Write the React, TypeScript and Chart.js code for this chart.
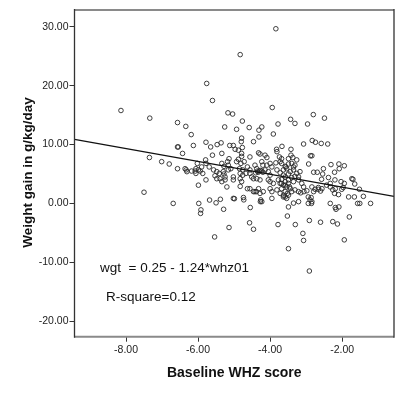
import React, { useEffect, useRef } from "react";
import { Chart, registerables } from "chart.js";

Chart.register(...registerables);

// Baseline WHZ score (x) and weight gain g/kg/day (y)
const points: number[][] = [
  [-3.84, 29.7], [-4.83, 25.3], [-5.76, 20.4], [-5.6, 17.5], [-8.14, 15.8], [-7.34, 14.5], [-3.94, 16.3],
  [-5.17, 15.4], [-5.04, 15.2], [-2.8, 15.1], [-2.49, 14.5], [-3.43, 14.3], [-3.31, 13.6], [-6.57, 13.75],
  [-4.77, 14.0], [-3.78, 13.5], [-2.96, 13.5], [-6.34, 13.1], [-5.26, 13.0], [-4.23, 13.0], [-4.58, 12.9],
  [-4.93, 12.6], [-4.31, 12.45], [-3.91, 11.8], [-6.19, 11.7], [-4.79, 11.1], [-4.31, 11.3], [-2.83, 10.7],
  [-2.74, 10.4], [-2.58, 10.2], [-2.4, 10.1], [-3.07, 10.1], [-5.78, 10.4], [-5.36, 10.3], [-5.47, 10.0],
  [-5.65, 9.6], [-6.13, 9.85], [-6.57, 9.6], [-6.55, 9.6], [-4.46, 10.5], [-4.8, 10.5], [-5.12, 9.85],
  [-5.02, 9.85], [-4.77, 9.5], [-3.67, 9.7], [-3.42, 9.2], [-3.82, 9.2], [-6.43, 8.5], [-7.35, 7.8],
  [-7.01, 7.1], [-6.8, 6.7], [-7.5, 1.9], [-6.69, 0.0], [-5.98, 0.0], [-5.92, -1.1], [-5.93, -1.7],
  [-5.68, 0.57], [-5.5, 0.1], [-5.38, 0.7], [-5.29, -1.0], [-5.54, -5.7], [-5.14, -4.1], [-4.99, 0.8],
  [-4.74, 1.0], [-4.73, 0.6], [-4.55, -0.7], [-4.57, -3.3], [-4.46, -4.4], [-4.27, 0.3], [-3.52, -2.15],
  [-3.49, -7.7], [-3.78, -3.6], [-3.3, -3.6], [-3.35, 0.05], [-3.09, -5.1], [-3.07, -6.3], [-2.91, -2.9],
  [-2.91, -11.5], [-2.6, -3.2], [-2.26, -3.1], [-2.13, -3.5], [-1.94, -6.2], [-1.8, -2.3], [-2.33, 0.0],
  [-2.19, -0.7], [-2.17, -1.0], [-2.09, -0.6], [-2.1, 1.5], [-1.57, 0.0], [-1.51, 0.0], [-1.21, 0.0],
  [-1.66, 1.1], [-1.41, 1.2], [-1.52, 2.4], [-1.65, 3.3], [-1.7, 4.1], [-1.94, 3.4], [-1.97, 2.7],
  [-1.94, 6.4], [-2.09, 6.7], [-2.08, 5.9], [-2.31, 6.6], [-2.21, 5.3], [-2.2, 4.0], [-2.03, 3.7],
  [-2.52, 5.9], [-2.54, 5.0], [-2.57, 4.1], [-2.38, 4.4], [-2.79, 5.3], [-2.69, 5.3], [-2.88, 8.1],
  [-2.84, 8.1], [-2.93, 6.7], [-2.86, 1.0], [-2.85, 0.0], [-2.94, 0.0], [-2.79, 2.0], [-2.66, 2.4],
  [-2.6, 2.1], [-2.33, 3.4], [-2.26, 2.3], [-2.21, 1.7],
  [-4.97, 9.2], [-4.88, 9.05], [-5.34, 8.5], [-5.6, 8.2], [-4.79, 8.5], [-4.79, 8.0], [-4.32, 8.6],
  [-4.28, 8.4], [-4.56, 7.9], [-4.14, 8.2], [-4.09, 7.8], [-3.81, 8.8], [-3.74, 7.9], [-3.68, 7.6],
  [-3.49, 7.6], [-4.88, 7.5], [-5.14, 7.6], [-5.79, 7.4], [-6.02, 6.8], [-5.78, 6.8], [-5.69, 6.2],
  [-5.18, 7.1], [-5.34, 6.8], [-5.28, 6.3], [-4.93, 7.1], [-4.81, 6.8], [-4.72, 7.1], [-5.16, 6.5],
  [-5.09, 5.9], [-4.85, 5.9], [-4.76, 5.7], [-4.63, 6.2], [-4.56, 5.7], [-4.42, 6.5], [-4.37, 5.9],
  [-4.23, 7.1], [-4.2, 6.5], [-4.09, 6.5], [-4.0, 6.8], [-3.95, 6.2], [-3.84, 6.9], [-3.72, 7.1],
  [-3.58, 6.3], [-3.54, 5.9], [-6.57, 5.9], [-6.36, 5.9], [-6.33, 5.7], [-6.06, 5.9], [-5.99, 5.7],
  [-5.9, 6.2], [-6.18, 5.5], [-6.08, 5.5], [-5.94, 5.5], [-5.87, 5.1], [-5.57, 5.7], [-5.48, 5.4],
  [-5.41, 5.1], [-5.3, 5.4], [-5.28, 5.0], [-5.25, 4.5], [-5.16, 5.7], [-5.53, 4.7], [-5.48, 4.2],
  [-5.39, 4.2], [-5.34, 3.7], [-5.25, 4.0], [-5.02, 4.5], [-5.02, 4.0], [-4.83, 5.1], [-4.76, 4.8],
  [-4.67, 5.1], [-4.83, 4.2], [-4.79, 3.7], [-4.56, 5.1], [-4.51, 4.5], [-4.46, 4.2], [-4.35, 5.5],
  [-4.3, 5.5], [-4.23, 5.5], [-4.14, 5.7], [-4.05, 5.4], [-4.0, 4.8], [-3.81, 5.7], [-3.72, 5.2],
  [-3.63, 4.8], [-4.37, 4.2], [-4.28, 4.0], [-4.05, 4.0], [-4.0, 3.7], [-3.91, 3.4], [-3.77, 4.0],
  [-3.68, 3.4], [-3.58, 3.1], [-3.49, 3.4], [-3.46, 2.8], [-5.99, 3.1], [-5.78, 4.0], [-4.83, 2.9],
  [-4.56, 2.5], [-4.42, 2.0], [-4.32, 2.5], [-4.28, 1.7], [-4.19, 2.0], [-4.0, 2.5], [-3.95, 2.0],
  [-3.81, 2.3], [-3.72, 1.7], [-3.68, 2.5], [-3.63, 1.4], [-3.58, 1.1], [-3.54, 0.85], [-3.95, 0.85],
  [-4.26, 0.6], [-4.23, 0.3], [-5.02, 0.85], [-3.49, -0.6],
  [-3.42, 8.2], [-3.37, 7.8], [-3.68, 6.8], [-3.56, 6.2], [-3.49, 6.7], [-3.4, 6.8], [-3.35, 6.2],
  [-3.31, 6.5], [-3.26, 7.4], [-3.63, 5.7], [-3.44, 5.4], [-3.35, 5.7], [-3.26, 5.1], [-3.17, 5.4],
  [-3.58, 4.5], [-3.49, 5.0], [-3.4, 4.4], [-3.31, 4.6], [-3.21, 4.5], [-3.68, 4.05], [-3.58, 3.7],
  [-3.49, 4.0], [-3.35, 3.7], [-3.21, 4.0], [-3.12, 3.4], [-3.07, 2.8], [-1.73, 4.2], [-3.72, 3.4],
  [-3.63, 3.1], [-3.54, 2.8], [-3.44, 2.5], [-3.58, 2.0], [-3.52, 1.7], [-3.4, 2.0], [-3.31, 2.3],
  [-3.21, 2.0], [-3.15, 1.8], [-3.06, 2.0], [-2.98, 2.15], [-2.84, 2.8], [-2.75, 2.4], [-2.66, 2.7],
  [-2.56, 2.5], [-2.43, 3.1], [-2.33, 2.8], [-2.19, 2.5], [-2.01, 2.4], [-3.63, 1.1], [-3.49, 1.4],
  [-2.94, 1.1], [-2.89, 0.6], [-2.84, 0.3], [-1.82, 1.1], [-3.21, 0.3],
  [-4.33, 5.3], [-4.27, 5.6], [-4.2, 5.3], [-4.4, 5.2], [-6.06, 5.1], [-6.31, 5.4], [-5.2, 2.8],
  [-4.63, 2.5], [-4.46, 2.0], [-4.38, 2.0],
];
const fitLineX = [-9.43, -0.56];
const fitLineY = [10.9, 1.2];
const xTicks = [-8, -6, -4, -2];
const yTicks = [-20, -10, 0, 10, 20, 30];
const xRange = [-9.43, -0.56];
const yRange = [-22.67, 32.89];
const xTitle = "Baseline WHZ score";
const yTitle = "Weight gain in g/kg/day";
const equationText = "wgt  = 0.25 - 1.24*whz01";
const rsqText = "R-square=0.12";

export default function App() {
  const ref = useRef<HTMLCanvasElement | null>(null);
  useEffect(() => {
    if (!ref.current) return;
    const overlay = {
      id: "overlay",
      afterDraw(chart: any) {
        const { ctx, chartArea: a } = chart;
        ctx.save();
        // frame
        ctx.strokeStyle = "#8a8a8a";
        ctx.lineWidth = 2;
        ctx.beginPath();
        ctx.moveTo(a.left, a.top);
        ctx.lineTo(a.right, a.top);
        ctx.moveTo(a.left, a.bottom);
        ctx.lineTo(a.right, a.bottom);
        ctx.stroke();
        ctx.strokeStyle = "#333";
        ctx.lineWidth = 1.3;
        ctx.beginPath();
        ctx.moveTo(a.left, a.top - 1);
        ctx.lineTo(a.left, a.bottom + 1);
        ctx.moveTo(a.right, a.top - 1);
        ctx.lineTo(a.right, a.bottom + 1);
        ctx.stroke();
        // annotations
        ctx.fillStyle = "#111";
        ctx.textBaseline = "middle";
        ctx.textAlign = "left";
        ctx.font = "13.5px 'Liberation Sans', Arial, sans-serif";
        ctx.fillText(equationText, 100, 268);
        ctx.fillText(rsqText, 106, 297);
        // titles
        ctx.font = "bold 14px 'Liberation Sans', Arial, sans-serif";
        ctx.textAlign = "center";
        ctx.fillText(xTitle, (a.left + a.right) / 2, 373);
        ctx.translate(28, 172.5);
        ctx.rotate(-Math.PI / 2);
        ctx.font = "bold 13.5px 'Liberation Sans', Arial, sans-serif";
        ctx.fillText(yTitle, 0, 0);
        ctx.restore();
      },
    };
    const chart = new Chart(ref.current, {
      type: "scatter",
      data: {
        datasets: [
          {
            type: "line",
            data: fitLineX.map((x, i) => ({ x, y: fitLineY[i] })),
            borderColor: "#111",
            borderWidth: 1.2,
            pointRadius: 0,
            fill: false,
            order: 1,
          } as any,
          {
            data: points.map(([x, y]) => ({ x, y })),
            pointRadius: 2.3,
            pointBorderWidth: 0.9,
            borderColor: "#2a2a2a",
            backgroundColor: "rgba(0,0,0,0)",
            pointStyle: "circle",
            order: 2,
          },
        ],
      },
      options: {
        responsive: false,
        animation: false,
        devicePixelRatio: 1,
        layout: { padding: { left: 0, right: 6, top: 10, bottom: 0 } },
        plugins: { legend: { display: false }, tooltip: { enabled: false } },
        scales: {
          x: {
            type: "linear",
            min: xRange[0],
            max: xRange[1],
            afterBuildTicks: (s: any) => {
              s.ticks = xTicks.map((v) => ({ value: v }));
            },
            afterFit: (s: any) => {
              s.height = 60.3;
            },
            border: { display: false },
            grid: { drawOnChartArea: false, drawTicks: true, tickLength: 5, color: "#333", lineWidth: 1 },
            ticks: {
              padding: 2,
              color: "#222",
              font: { family: "'Liberation Sans', Arial, sans-serif", size: 10.5 },
              callback: (v: any) => Number(v).toFixed(2),
              maxRotation: 0,
            },
          },
          y: {
            type: "linear",
            min: yRange[0],
            max: yRange[1],
            afterBuildTicks: (s: any) => {
              s.ticks = yTicks.map((v) => ({ value: v }));
            },
            afterFit: (s: any) => {
              s.width = 74.5;
            },
            border: { display: false },
            grid: { drawOnChartArea: false, drawTicks: true, tickLength: 5, color: "#333", lineWidth: 1 },
            ticks: {
              padding: 1,
              color: "#222",
              font: { family: "'Liberation Sans', Arial, sans-serif", size: 10.5 },
              callback: (v: any) => Number(v).toFixed(2),
            },
          },
        },
      },
      plugins: [overlay],
    } as any);
    return () => chart.destroy();
  }, []);
  return (
    <div style={{ position: "fixed", left: 0, top: 0, width: 400, height: 397, background: "#fff" }}>
      <canvas ref={ref} width={400} height={397} style={{ width: 400, height: 397, display: "block" }} />
    </div>
  );
}
